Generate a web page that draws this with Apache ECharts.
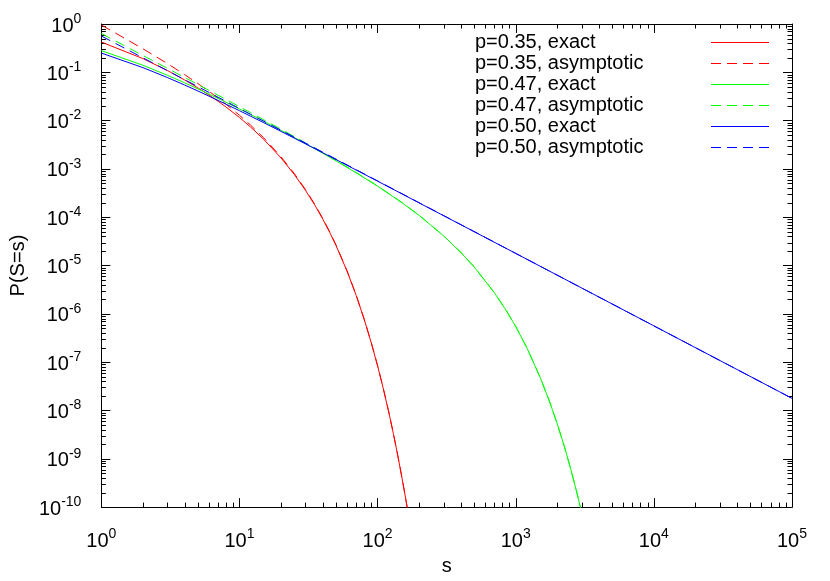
<!DOCTYPE html>
<html>
<head>
<meta charset="utf-8">
<title>P(S=s)</title>
<script src="https://cdn.jsdelivr.net/npm/echarts@6/dist/echarts.min.js"></script>
<style>
  html, body { margin: 0; padding: 0; background: #fff; }
  #chart { width: 830px; height: 581px; }
</style>
</head>
<body>
<div id="chart"></div>
<script>
// sizes s and P(S=s), one set per p
const sRed = [1, 2, 3, 4, 5, 6, 7, 8, 10, 12, 15, 20, 25, 30, 35, 40, 45, 50, 60, 70, 80, 90, 100,
  110, 120, 130, 140, 150, 160, 170]
const redExact = [0.4225, 0.19224, 0.10933, 0.069648, 0.047534, 0.033987, 0.025128, 0.019051, 0.011582, 7.425e-3,
  0.004076, 0.001681, 7.590e-4, 3.629e-4, 1.8064e-4, 9.264e-5, 4.860e-5, 2.595e-5, 7.718e-6, 2.391e-6, 7.637e-7,
  2.496e-7, 8.310e-8, 2.807e-8, 9.602e-9, 3.318e-9, 1.157e-9, 4.064e-10, 1.438e-10, 5.114e-11]
const redAsym = [0.9535, 0.3068, 0.1520, 0.08981, 0.05850, 0.04049, 0.029235, 0.02177, 0.01290, 8.128e-3,
  0.004383, 0.001776, 7.933e-4, 3.766e-4, 1.8646e-4, 9.525e-5, 4.982e-5, 2.654e-5, 7.863e-6, 2.429e-6, 7.744e-7,
  2.527e-7, 8.403e-8, 2.836e-8, 9.692e-9, 3.347e-9, 1.166e-9, 4.095e-10, 1.448e-10, 5.148e-11]

const sGreen = [1, 2, 3, 4, 5, 6, 7, 8, 10, 12, 15, 20, 25, 30, 40, 50, 70, 100, 150, 200, 300, 400, 500, 700, 850,
  1000, 1200, 1500, 1750, 2000, 2250, 2500, 2750, 3000, 3200]
const greenExact = [0.2809, 0.139944, 0.08715, 0.060787, 0.045418, 0.035559, 0.028792, 0.023903, 0.017422, 0.013391,
  0.009649, 0.0062644, 4.4493e-3, 0.0033485, 2.117e-3, 0.0014692, 8.304e-4, 4.3869e-4, 2.0008e-4, 1.0874e-4,
  4.1346e-5, 1.8737e-5, 9.355e-6, 2.7466e-6, 1.1953e-6, 5.455e-7, 2.0178e-7, 4.895e-8, 1.5767e-8, 5.239e-9,
  1.7819e-9, 6.177e-10, 2.1734e-10, 7.742e-11, 3.417e-11]
const greenAsym = [0.6339, 0.22336, 0.12119, 0.078384, 0.055878, 0.042357, 0.033497, 0.027315, 0.019405, 0.01466,
  0.010375, 0.0066178, 4.6505e-3, 0.0034746, 2.1766e-3, 0.0015024, 8.437e-4, 4.4361e-4, 2.0159e-4, 1.0935e-4,
  4.15e-5, 1.879e-5, 9.376e-6, 2.751e-6, 1.1969e-6, 5.461e-7, 2.0196e-7, 4.898e-8, 1.5776e-8, 5.242e-9,
  1.7828e-9, 6.179e-10, 2.1743e-10, 7.745e-11, 3.418e-11]

const sBlue = [1, 2, 3, 4, 5, 6, 7, 8, 10, 12, 15, 20, 30, 50, 100, 1000, 10000, 100000]
const blueExact = [0.25, 0.125, 0.078125, 0.0546875, 0.041016, 0.032227, 0.026184, 0.02182, 0.016018, 0.012398,
  0.009029, 0.005971, 0.003309, 0.0015605, 5.5793e-4, 1.7821e-5, 5.6413e-7, 1.7841e-8]
const blueAsym = [0.56419, 0.19947, 0.10858, 0.070524, 0.050463, 0.038388, 0.030464, 0.024934, 0.017841, 0.013572,
  0.0097116, 0.0063078, 0.0034335, 0.0015958, 5.6419e-4, 1.7841e-5, 5.6419e-7, 1.7841e-8]

const seriesNames = ['p=0.35, exact', 'p=0.35, asymptotic', 'p=0.47, exact', 'p=0.47, asymptotic',
  'p=0.50, exact', 'p=0.50, asymptotic']
const seriesColors = ['#ff0000', '#ff0000', '#00ff00', '#00ff00', '#0000ff', '#0000ff']
const seriesDashed = [false, true, false, true, false, true]
const xTickExp = [0, 1, 2, 3, 4, 5]
const yTickExp = [-10, -9, -8, -7, -6, -5, -4, -3, -2, -1, 0]

const FONT = '"Liberation Sans", Arial, Helvetica, sans-serif'
const X_MIN = Math.pow(10, xTickExp[0])
const X_MAX = Math.pow(10, xTickExp[xTickExp.length - 1])
const Y_MIN = Math.pow(10, yTickExp[0])
const Y_MAX = Math.pow(10, yTickExp[yTickExp.length - 1])
const MAJOR = 9
const MINOR = 4.5
const DASH = [10, 6]

// legend box: text rows on the left, line samples drawn in a column on the right
const LEGEND_TOP = 27
const LEGEND_ROW = 21
const SAMPLE_X1 = 711
const SAMPLE_X2 = 769

const pairs = (xs, ys) => xs.map((x, i) => [x, ys[i]])

// minor ticks at 2..9 x 10^k, both axes, drawn on all four sides
const minorTicks = []
for (let k = xTickExp[0]; k < xTickExp[xTickExp.length - 1]; k++) {
  for (let m = 2; m <= 9; m++) minorTicks.push([m * Math.pow(10, k), Y_MIN, 0])
}
for (let k = yTickExp[0]; k < yTickExp[yTickExp.length - 1]; k++) {
  for (let m = 2; m <= 9; m++) minorTicks.push([X_MIN, m * Math.pow(10, k), 1])
}

const crisp = (v) => Math.round(v) + 0.5
const tickLine = (x1, y1, x2, y2) => ({
  type: 'line',
  shape: { x1, y1, x2, y2 },
  style: { stroke: '#000', lineWidth: 1 },
})

const renderMinor = (params, api) => {
  if (api.value(2) === 0) {
    const b = api.coord([api.value(0), Y_MIN])
    const t = api.coord([api.value(0), Y_MAX])
    const x = crisp(b[0])
    return { type: 'group', children: [tickLine(x, b[1], x, b[1] - MINOR), tickLine(x, t[1], x, t[1] + MINOR)] }
  }
  const l = api.coord([X_MIN, api.value(1)])
  const r = api.coord([X_MAX, api.value(1)])
  const y = crisp(l[1])
  return { type: 'group', children: [tickLine(l[0], y, l[0] + MINOR, y), tickLine(r[0], y, r[0] - MINOR, y)] }
}

// 10^k labels with a raised exponent
const powLabel = (extra) => Object.assign({
  formatter: (v) => '{b|10}{e|' + Math.round(Math.log10(v)) + '}',
  rich: {
    b: { fontSize: 20, fontFamily: FONT, color: '#000', lineHeight: 24, verticalAlign: 'bottom' },
    e: { fontSize: 14, fontFamily: FONT, color: '#000', lineHeight: 14, verticalAlign: 'top' },
  },
}, extra)

const axisBase = {
  type: 'log',
  logBase: 10,
  interval: 1,
  axisLine: { show: true, lineStyle: { color: '#000', width: 1 } },
  axisTick: { show: true, inside: true, length: MAJOR, lineStyle: { color: '#000', width: 1 } },
  splitLine: { show: false },
}

const lineSeries = (i, xs, ys) => ({
  name: seriesNames[i],
  type: 'line',
  data: pairs(xs, ys),
  symbol: 'none',
  smooth: false,
  lineStyle: { color: seriesColors[i], width: 1, type: seriesDashed[i] ? DASH : 'solid' },
  itemStyle: { color: seriesColors[i] },
})

// legend keeps the text; its own icon is left blank
const legendData = seriesNames.map((name) => ({
  name,
  icon: 'path://M0,0h58v1h-58z',
  itemStyle: { color: 'rgba(0,0,0,0)', borderWidth: 0 },
}))

// crisp 1px line samples, one per legend row
const legendSamples = seriesNames.map((name, i) => {
  const y = LEGEND_TOP + 5 + Math.floor(LEGEND_ROW / 2) + i * LEGEND_ROW + 0.5
  return {
    type: 'line',
    silent: true,
    shape: { x1: SAMPLE_X1, y1: y, x2: SAMPLE_X2, y2: y },
    style: { stroke: seriesColors[i], lineWidth: 1, lineDash: seriesDashed[i] ? DASH : null },
    z: 100,
  }
})

const chart = echarts.init(document.getElementById('chart'))

chart.setOption({
  animation: false,
  backgroundColor: '#fff',
  textStyle: { fontFamily: FONT },
  grid: { left: 101, right: 38, top: 24, bottom: 67 },
  legend: {
    data: legendData,
    orient: 'vertical',
    left: 470,
    top: LEGEND_TOP,
    align: 'right',
    itemWidth: 58,
    itemHeight: 1,
    itemGap: 0,
    formatter: (name) => '{t|' + name + '}',
    textStyle: {
      color: '#000',
      fontFamily: FONT,
      fontSize: 20,
      lineHeight: LEGEND_ROW,
      rich: { t: { width: 231, height: LEGEND_ROW, align: 'left', fontSize: 20, lineHeight: LEGEND_ROW, fontFamily: FONT, color: '#000' } },
    },
  },
  graphic: { elements: legendSamples },
  xAxis: [
    Object.assign({}, axisBase, {
      min: X_MIN, max: X_MAX, position: 'bottom',
      name: 's', nameLocation: 'middle', nameGap: 43,
      nameTextStyle: { fontSize: 20, fontFamily: FONT, color: '#000' },
      axisLabel: powLabel({ margin: 20 }),
    }),
    Object.assign({}, axisBase, { min: X_MIN, max: X_MAX, position: 'top', axisLabel: { show: false } }),
  ],
  yAxis: [
    Object.assign({}, axisBase, {
      min: Y_MIN, max: Y_MAX, position: 'left',
      name: 'P(S=s)', nameLocation: 'middle', nameGap: 73, nameRotate: 90,
      nameTextStyle: { fontSize: 20, fontFamily: FONT, color: '#000' },
      axisLabel: powLabel({ margin: 20 }),
    }),
    Object.assign({}, axisBase, { min: Y_MIN, max: Y_MAX, position: 'right', axisLabel: { show: false } }),
  ],
  series: [
    lineSeries(0, sRed, redExact),
    lineSeries(1, sRed, redAsym),
    lineSeries(2, sGreen, greenExact),
    lineSeries(3, sGreen, greenAsym),
    lineSeries(4, sBlue, blueExact),
    lineSeries(5, sBlue, blueAsym),
    {
      type: 'custom',
      silent: true,
      clip: false,
      renderItem: renderMinor,
      data: minorTicks,
      encode: { x: 0, y: 1 },
      z: 1,
    },
  ],
})
</script>
</body>
</html>
